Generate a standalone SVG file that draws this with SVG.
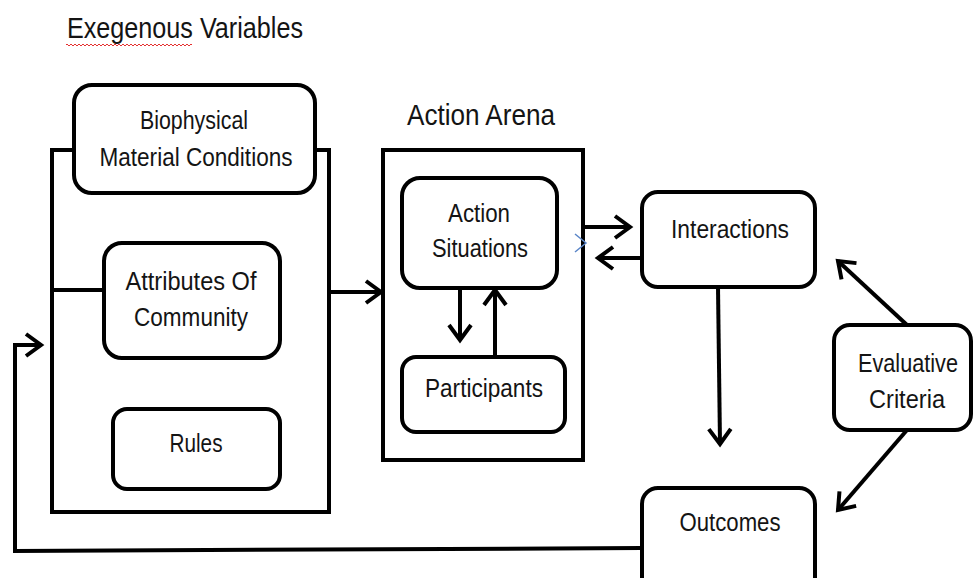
<svg xmlns="http://www.w3.org/2000/svg" width="974" height="578" viewBox="0 0 974 578">
<style>
.box{fill:#fff;stroke:#000;stroke-width:4}
.frame{fill:none;stroke:#000;stroke-width:4}
.t{font-family:"Liberation Sans",Arial,sans-serif;font-size:25px;fill:#141414;text-anchor:middle}
.title{font-family:"Liberation Sans",Arial,sans-serif;font-size:29px;fill:#141414;text-anchor:middle}
.c{fill:none;stroke:#000;stroke-width:4}
</style>
<defs>
<marker id="ah" markerUnits="userSpaceOnUse" viewBox="0 0 22 28" markerWidth="22" markerHeight="28" refX="18" refY="14" orient="auto">
<path d="M3,3 L18,14 L3,25" fill="none" stroke="#000" stroke-width="4" stroke-linejoin="miter"/>
</marker>
</defs>
<rect width="974" height="578" fill="#fff"/>
<text class="title" x="185" y="38" textLength="236" lengthAdjust="spacingAndGlyphs">Exegenous Variables</text>
<path d="M66,45 q1,-2 2,0 t2,0 t2,0 t2,0 t2,0 t2,0 t2,0 t2,0 t2,0 t2,0 t2,0 t2,0 t2,0 t2,0 t2,0 t2,0 t2,0 t2,0 t2,0 t2,0 t2,0 t2,0 t2,0 t2,0 t2,0 t2,0 t2,0 t2,0 t2,0 t2,0 t2,0 t2,0 t2,0 t2,0 t2,0 t2,0 t2,0 t2,0 t2,0 t2,0 t2,0 t2,0 t2,0 t2,0 t2,0 t2,0 t2,0 t2,0 t2,0 t2,0 t2,0 t2,0 t2,0 t2,0 t2,0 t2,0 t2,0 t2,0 t2,0 t2,0 t2,0 t2,0 t2,0" fill="none" stroke="#e53030" stroke-width="1"/>
<text class="title" x="481" y="125" textLength="148" lengthAdjust="spacingAndGlyphs">Action Arena</text>

<g id="exogenous-frame"><rect class="frame" x="52" y="150" width="277" height="362"/></g>
<g id="action-arena-frame"><rect class="frame" x="383" y="150" width="200" height="310"/></g>

<g id="connectors">
<line class="c" x1="52" y1="290" x2="106" y2="290"/>
<line class="c" x1="329" y1="292" x2="381" y2="292" marker-end="url(#ah)"/>
<polyline class="c" points="642,548 15,551 15,345 41,345" marker-end="url(#ah)"/>
<line class="c" x1="460" y1="288" x2="460" y2="340" marker-end="url(#ah)"/>
<line class="c" x1="495" y1="357" x2="495" y2="290" marker-end="url(#ah)"/>
<line class="c" x1="585" y1="227" x2="630" y2="227" marker-end="url(#ah)"/>
<line class="c" x1="642" y1="258" x2="598" y2="258" marker-end="url(#ah)"/>
<line class="c" x1="718" y1="287" x2="720" y2="444" marker-end="url(#ah)"/>
<line class="c" x1="907" y1="325" x2="838" y2="261" marker-end="url(#ah)"/>
<line class="c" x1="907" y1="430" x2="838" y2="510" marker-end="url(#ah)"/>
<polyline points="575,234 586,243 575,252" fill="none" stroke="#5b86c8" stroke-width="1.5"/>
</g>

<g id="biophysical"><rect class="box" x="74" y="85" width="241" height="108" rx="18"/>
<text class="t" x="194" y="129" textLength="108" lengthAdjust="spacingAndGlyphs">Biophysical</text>
<text class="t" x="196" y="166" textLength="193" lengthAdjust="spacingAndGlyphs">Material Conditions</text></g>

<g id="attributes"><rect class="box" x="104" y="243" width="176" height="115" rx="18"/>
<text class="t" x="191" y="290" textLength="131" lengthAdjust="spacingAndGlyphs">Attributes Of</text>
<text class="t" x="191" y="326" textLength="114" lengthAdjust="spacingAndGlyphs">Community</text></g>

<g id="rules"><rect class="box" x="113" y="409" width="167" height="80" rx="14"/>
<text class="t" x="196" y="452" textLength="53" lengthAdjust="spacingAndGlyphs">Rules</text></g>

<g id="action-situations"><rect class="box" x="402" y="178" width="155" height="110" rx="18"/>
<text class="t" x="479" y="222" textLength="62" lengthAdjust="spacingAndGlyphs">Action</text>
<text class="t" x="480" y="257" textLength="96" lengthAdjust="spacingAndGlyphs">Situations</text></g>

<g id="participants"><rect class="box" x="402" y="357" width="163" height="75" rx="14"/>
<text class="t" x="484" y="397" textLength="118" lengthAdjust="spacingAndGlyphs">Participants</text></g>

<g id="interactions"><rect class="box" x="642" y="192" width="173" height="95" rx="16"/>
<text class="t" x="730" y="238" textLength="118" lengthAdjust="spacingAndGlyphs">Interactions</text></g>

<g id="evaluative"><rect class="box" x="834" y="325" width="137" height="105" rx="16"/>
<text class="t" x="908" y="372" textLength="100" lengthAdjust="spacingAndGlyphs">Evaluative</text>
<text class="t" x="907" y="408" textLength="76" lengthAdjust="spacingAndGlyphs">Criteria</text></g>

<g id="outcomes"><rect class="box" x="642" y="488" width="173" height="105" rx="16"/>
<text class="t" x="730" y="531" textLength="101" lengthAdjust="spacingAndGlyphs">Outcomes</text></g>
</svg>
